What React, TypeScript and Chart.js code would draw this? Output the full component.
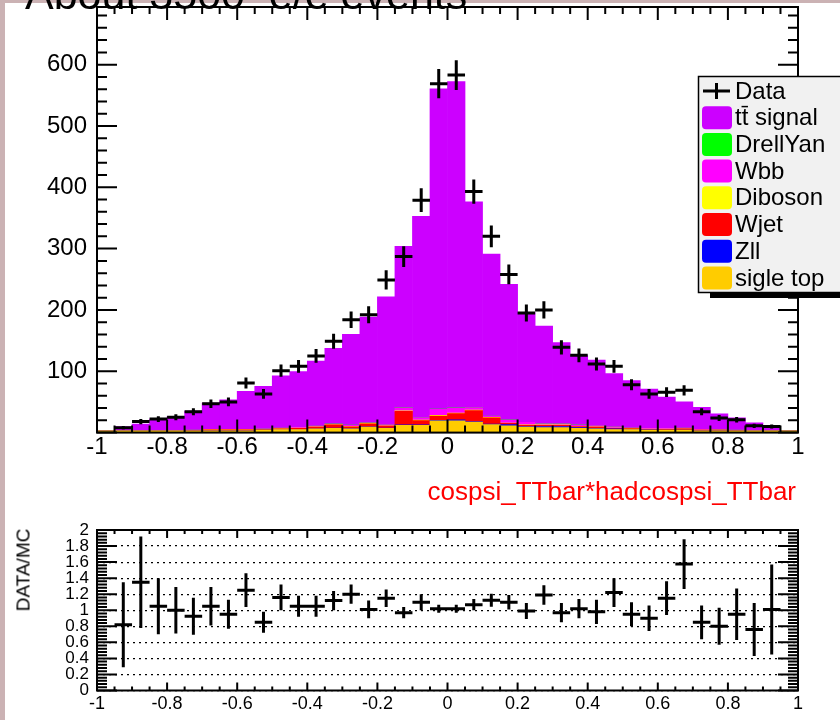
import React, { useEffect, useRef } from 'react';
import { Chart, registerables } from 'chart.js';

Chart.register(...registerables);

// ---------- data ----------
const binCenters = [
  -0.975, -0.925, -0.875, -0.825, -0.775, -0.725, -0.675, -0.625, -0.575, -0.525,
  -0.475, -0.425, -0.375, -0.325, -0.275, -0.225, -0.175, -0.125, -0.075, -0.025,
  0.025, 0.075, 0.125, 0.175, 0.225, 0.275, 0.325, 0.375, 0.425, 0.475,
  0.525, 0.575, 0.625, 0.675, 0.725, 0.775, 0.825, 0.875, 0.925, 0.975,
];
const binHalfWidth = 0.025;

const dataCounts = [
  0, 8, 18, 22, 25, 34, 47, 50, 81, 63,
  101, 108, 125, 149, 184, 192, 249, 287, 379, 569,
  583, 393, 320, 258, 195, 200, 139, 126, 112, 108,
  78, 63, 66, 69, 34, 24, 21, 11, 10, 0,
];

const ttbarSignal = [
  0, 7, 11, 19, 22.5, 31, 43, 48, 62, 69,
  85, 91, 106, 123, 148, 172, 208, 263, 328, 522,
  532, 335, 264, 221, 179, 159, 132, 113, 107, 87,
  77, 64, 51, 43, 36, 26, 20, 12.5, 7, 0,
];
const drellYan = [
  0, 0, 0, 0, 0, 0, 0, 0, 0, 0,
  0, 0, 0, 0.3, 0.3, 0.3, 0.3, 0.4, 0.4, 0.5,
  0.5, 0.4, 0.3, 0.3, 0.3, 0.3, 0.2, 0.2, 0, 0,
  0, 0, 0, 0, 0, 0, 0, 0, 0, 0,
];
const wbb = [
  0, 0, 0, 0, 0.3, 0.5, 0.5, 0.5, 0.5, 1,
  1, 1, 1, 1, 2, 1, 2, 5, 4, 10,
  8, 4, 2, 5, 4, 2, 2, 2, 2, 2,
  1, 1, 1, 1, 1, 0.5, 0.5, 0.5, 0, 0,
];
const diboson = [
  0, 0, 0, 0, 0.2, 0.2, 0.3, 0.3, 0.3, 0.3,
  0.4, 0.4, 0.5, 0.5, 0.5, 0.6, 0.6, 0.8, 0.8, 1,
  1, 0.8, 0.8, 0.6, 0.6, 0.5, 0.5, 0.4, 0.4, 0.3,
  0.3, 0.3, 0.3, 0.2, 0.2, 0.2, 0, 0, 0, 0,
];
const wjet = [
  0, 0, 0, 0, 0, 0.5, 1.5, 1.5, 1.5, 1,
  1, 2, 3, 5, 3, 5, 3, 22, 7, 7,
  10, 18, 10, 2, 2, 2, 2, 2, 2, 1,
  1, 1, 1.5, 2, 1, 1, 0.5, 0, 0, 0,
];
const zll = [
  0, 0, 0, 0, 0, 0, 0, 0, 0, 0,
  0, 0, 0, 0.5, 0.5, 0.5, 0.5, 0.5, 0.5, 1,
  2, 1, 1, 2, 1, 2, 2, 1, 1, 1,
  0.5, 0.5, 0, 0, 0, 0, 0, 0, 0, 0,
];
const sigleTop = [
  3, 3, 3, 3, 3, 3, 3, 3, 3, 4,
  5, 5, 6, 7, 6, 9, 7, 12, 12, 19,
  19, 17, 13, 11, 9, 8, 8, 7, 6, 5,
  5, 4, 4, 4, 3, 3, 3, 3, 3, 3,
];

const ratioCenters = [
  -0.925, -0.875, -0.825, -0.775, -0.725, -0.675, -0.625, -0.575, -0.525,
  -0.475, -0.425, -0.375, -0.325, -0.275, -0.225, -0.175, -0.125, -0.075, -0.025,
  0.025, 0.075, 0.125, 0.175, 0.225, 0.275, 0.325, 0.375, 0.425, 0.475,
  0.525, 0.575, 0.625, 0.675, 0.725, 0.775, 0.825, 0.875, 0.925,
];
const ratioValues = [
  0.82, 1.35, 1.05, 1.0, 0.925, 1.05, 0.95, 1.25, 0.85,
  1.16, 1.05, 1.05, 1.12, 1.2, 1.01, 1.15, 0.97, 1.1, 1.02,
  1.02, 1.07, 1.125, 1.1, 0.99, 1.19, 0.97, 1.02, 0.98, 1.22,
  0.95, 0.9, 1.15, 1.575, 0.85, 0.8, 0.95, 0.76, 1.01,
];
const ratioErrors = [
  0.53, 0.57, 0.35, 0.29, 0.23, 0.24, 0.18, 0.21, 0.13,
  0.16, 0.13, 0.13, 0.12, 0.12, 0.11, 0.11, 0.07, 0.1, 0.05,
  0.05, 0.07, 0.08, 0.09, 0.1, 0.12, 0.12, 0.12, 0.15, 0.18,
  0.15, 0.16, 0.21, 0.31, 0.21, 0.23, 0.32, 0.33, 0.56,
];

const xTickValues = [-1, -0.8, -0.6, -0.4, -0.2, 0, 0.2, 0.4, 0.6, 0.8, 1];
const yTickValues = [100, 200, 300, 400, 500, 600];
const ratioTickValues = [0, 0.2, 0.4, 0.6, 0.8, 1, 1.2, 1.4, 1.6, 1.8, 2];

const legendNames = ['Data', 'tt\u0304 signal', 'DrellYan', 'Wbb', 'Diboson', 'Wjet', 'Zll', 'sigle top'];
const legendColors = ['#000000', '#cc00ff', '#00ff00', '#ff00ff', '#ffff00', '#ff0000', '#0000ff', '#ffcc00'];

const FONT = '"Liberation Sans", Arial, Helvetica, sans-serif';

const fmt = (v: number) => String(Number(Number(v).toFixed(2)));

type TickOpts = {
  xMin: number; xMax: number; xMinor: number; xMajorEvery: number; xMajorLen: number; xMinorLen: number;
  yMin: number; yMax: number; yMinor: number; yMajorEvery: number; yMajorLen: number; yMinorLen: number;
};

function drawFrameAndTicks(ctx: CanvasRenderingContext2D, chart: any, o: TickOpts) {
  const a = chart.chartArea;
  const x = chart.scales.x;
  const y = chart.scales.y;
  ctx.save();
  ctx.strokeStyle = '#000';
  ctx.lineWidth = 2;
  ctx.beginPath();
  const ny = Math.floor((o.yMax - o.yMin) / o.yMinor + 1e-6);
  for (let i = 0; i <= ny; i++) {
    const v = o.yMin + i * o.yMinor;
    const len = i % o.yMajorEvery === 0 ? o.yMajorLen : o.yMinorLen;
    const py = y.getPixelForValue(v);
    ctx.moveTo(a.left, py);
    ctx.lineTo(a.left + len, py);
    ctx.moveTo(a.right, py);
    ctx.lineTo(a.right - len, py);
  }
  const nx = Math.round((o.xMax - o.xMin) / o.xMinor);
  for (let i = 0; i <= nx; i++) {
    const v = o.xMin + i * o.xMinor;
    const len = i % o.xMajorEvery === 0 ? o.xMajorLen : o.xMinorLen;
    const px = x.getPixelForValue(v);
    ctx.moveTo(px, a.top);
    ctx.lineTo(px, a.top + len);
    ctx.moveTo(px, a.bottom);
    ctx.lineTo(px, a.bottom - len);
  }
  ctx.stroke();
  ctx.strokeRect(a.left, a.top, a.right - a.left, a.bottom - a.top);
  ctx.restore();
}

function drawCrosses(ctx: CanvasRenderingContext2D, chart: any, datasetIndex: number, errs: (i: number) => number) {
  const x = chart.scales.x;
  const y = chart.scales.y;
  const meta = chart.getDatasetMeta(datasetIndex);
  const raw = chart.data.datasets[datasetIndex].data as { x: number; y: number }[];
  ctx.save();
  ctx.strokeStyle = '#000';
  ctx.lineWidth = 3;
  ctx.beginPath();
  meta.data.forEach((pt: any, i: number) => {
    const d = raw[i];
    const xl = x.getPixelForValue(d.x - binHalfWidth);
    const xr = x.getPixelForValue(d.x + binHalfWidth);
    const e = errs(i);
    const yt = y.getPixelForValue(d.y + e);
    const yb = y.getPixelForValue(d.y - e);
    ctx.moveTo(xl, pt.y);
    ctx.lineTo(xr, pt.y);
    ctx.moveTo(pt.x, yt);
    ctx.lineTo(pt.x, yb);
  });
  ctx.stroke();
  ctx.restore();
}

function drawLegend(ctx: CanvasRenderingContext2D) {
  const left = 698, top = 76, w = 160, h = 216;
  ctx.save();
  ctx.fillStyle = '#000';
  ctx.fillRect(left + 12, top + h, w, 6);
  ctx.fillStyle = '#f1f1f1';
  ctx.fillRect(left, top, w, h);
  ctx.strokeStyle = '#000';
  ctx.lineWidth = 1.5;
  ctx.strokeRect(left + 0.5, top + 0.5, w, h);
  ctx.font = `24px ${FONT}`;
  ctx.textBaseline = 'middle';
  ctx.textAlign = 'left';
  legendNames.forEach((name, i) => {
    const cy = top + 15 + i * 26.7;
    if (i === 0) {
      ctx.strokeStyle = '#000';
      ctx.lineWidth = 3;
      ctx.beginPath();
      ctx.moveTo(703, cy);
      ctx.lineTo(730, cy);
      ctx.moveTo(716.5, cy - 8);
      ctx.lineTo(716.5, cy + 8);
      ctx.stroke();
    } else {
      ctx.fillStyle = legendColors[i];
      ctx.beginPath();
      (ctx as any).roundRect(702, cy - 11.5, 30, 23, 4);
      ctx.fill();
    }
    ctx.fillStyle = '#000';
    ctx.fillText(name, 735, cy + 1);
  });
  ctx.restore();
}

export default function App() {
  const topRef = useRef<HTMLCanvasElement>(null);
  const botRef = useRef<HTMLCanvasElement>(null);

  useEffect(() => {
    const stackSeries = [
      { label: 'sigle top', data: sigleTop, color: legendColors[7] },
      { label: 'Zll', data: zll, color: legendColors[6] },
      { label: 'Wjet', data: wjet, color: legendColors[5] },
      { label: 'Diboson', data: diboson, color: legendColors[4] },
      { label: 'Wbb', data: wbb, color: legendColors[3] },
      { label: 'DrellYan', data: drellYan, color: legendColors[2] },
      { label: 'tt signal', data: ttbarSignal, color: legendColors[1] },
    ];
    const barSets = stackSeries.map((s) => ({
      type: 'bar' as const,
      label: s.label,
      data: binCenters.map((c, i) => ({ x: c, y: s.data[i] })),
      backgroundColor: s.color,
      borderWidth: 0,
      barPercentage: 1,
      categoryPercentage: 1,
      stack: 'mc',
    }));
    const dataPoints = binCenters
      .map((c, i) => ({ x: c, y: dataCounts[i] }))
      .filter((p) => p.y > 0);

    const topDecor = {
      id: 'topDecor',
      afterDatasetsDraw(chart: any) {
        const ctx = chart.ctx as CanvasRenderingContext2D;
        drawCrosses(ctx, chart, 7, (i) => Math.sqrt(dataPoints[i].y));
        drawFrameAndTicks(ctx, chart, {
          xMin: -1, xMax: 1, xMinor: 0.05, xMajorEvery: 4, xMajorLen: 13, xMinorLen: 7,
          yMin: 0, yMax: 694, yMinor: 20, yMajorEvery: 5, yMajorLen: 20, yMinorLen: 10,
        });
        drawLegend(ctx);
      },
    };

    const fitY = (s: any) => { s.width = 97; s.paddingTop = 0; s.paddingBottom = 0; };

    const topChart = new Chart(topRef.current as HTMLCanvasElement, {
      type: 'bar',
      data: {
        datasets: [
          ...barSets,
          {
            type: 'scatter' as const,
            label: 'Data',
            data: dataPoints,
            pointRadius: 0,
            showLine: false,
            stack: 'data',
          } as any,
        ],
      },
      options: {
        responsive: false,
        animation: false,
        events: [],
        layout: { autoPadding: false, padding: { left: 0, right: 42, top: 7, bottom: 0 } },
        plugins: { legend: { display: false }, tooltip: { enabled: false }, title: { display: false } },
        scales: {
          x: {
            type: 'linear',
            min: -1,
            max: 1,
            offset: false,
            stacked: true,
            grid: { display: false, drawTicks: false },
            border: { display: false },
            afterBuildTicks: (s: any) => { s.ticks = xTickValues.map((v) => ({ value: v })); },
            ticks: {
              autoSkip: false,
              maxRotation: 0,
              padding: 0,
              color: '#000',
              font: { family: FONT, size: 24 },
              callback: (v: any) => fmt(v),
            },
            afterFit: (s: any) => { s.height = 37.4; },
          },
          y: {
            type: 'linear',
            min: 0,
            max: 694,
            stacked: true,
            grid: { display: false, drawTicks: false },
            border: { display: false },
            afterBuildTicks: (s: any) => { s.ticks = yTickValues.map((v) => ({ value: v })); },
            ticks: {
              autoSkip: false,
              padding: 10,
              color: '#000',
              font: { family: FONT, size: 24 },
              callback: (v: any) => fmt(v),
            },
            afterFit: fitY,
          },
        },
      } as any,
      plugins: [topDecor],
    });

    const ratioPoints = ratioCenters.map((c, i) => ({ x: c, y: ratioValues[i] }));
    const botDecor = {
      id: 'botDecor',
      afterDatasetsDraw(chart: any) {
        const ctx = chart.ctx as CanvasRenderingContext2D;
        drawCrosses(ctx, chart, 0, (i) => ratioErrors[i]);
        drawFrameAndTicks(ctx, chart, {
          xMin: -1, xMax: 1, xMinor: 0.05, xMajorEvery: 4, xMajorLen: 8, xMinorLen: 4,
          yMin: 0, yMax: 2, yMinor: 0.04, yMajorEvery: 5, yMajorLen: 20, yMinorLen: 10,
        });
      },
    };

    const botChart = new Chart(botRef.current as HTMLCanvasElement, {
      type: 'scatter',
      data: {
        datasets: [
          { label: 'DATA/MC', data: ratioPoints, pointRadius: 0, showLine: false },
        ],
      },
      options: {
        responsive: false,
        animation: false,
        events: [],
        layout: { autoPadding: false, padding: { left: 0, right: 42, top: 60, bottom: 0 } },
        plugins: { legend: { display: false }, tooltip: { enabled: false } },
        scales: {
          x: {
            type: 'linear',
            min: -1,
            max: 1,
            grid: { display: false, drawTicks: false },
            border: { display: false },
            afterBuildTicks: (s: any) => { s.ticks = xTickValues.map((v) => ({ value: v })); },
            ticks: {
              autoSkip: false,
              maxRotation: 0,
              padding: 3,
              color: '#000',
              font: { family: FONT, size: 18 },
              callback: (v: any) => fmt(v),
            },
            afterFit: (s: any) => { s.height = 29.5; },
          },
          y: {
            type: 'linear',
            min: 0,
            max: 2,
            grid: { display: true, drawTicks: false, color: '#000', lineWidth: 1.2 },
            border: { display: false, dash: [2, 4] },
            afterBuildTicks: (s: any) => { s.ticks = ratioTickValues.map((v) => ({ value: v })); },
            ticks: {
              autoSkip: false,
              padding: 8,
              color: '#000',
              font: { family: FONT, size: 17, lineHeight: 1 },
              callback: (v: any) => fmt(v),
            },
            afterFit: fitY,
          },
        },
      } as any,
      plugins: [botDecor],
    });

    return () => {
      topChart.destroy();
      botChart.destroy();
    };
  }, []);

  return (
    <div style={{ position: 'absolute', left: 0, top: 0, width: 840, height: 720, overflow: 'hidden', background: '#cbb2b4' }}>
      <div style={{ position: 'absolute', left: 5, top: 3, width: 835, height: 717, background: '#ffffff' }} />
      <canvas ref={topRef} width={840} height={470} style={{ position: 'absolute', left: 0, top: 0, width: 840, height: 470 }} />
      <canvas ref={botRef} width={840} height={250} style={{ position: 'absolute', left: 0, top: 470, width: 840, height: 250 }} />
      <div style={{ position: 'absolute', left: 25, top: -27, fontFamily: FONT, fontSize: 43, lineHeight: 1, color: '#000', whiteSpace: 'nowrap' }}>
        About 3500&nbsp;&nbsp;e/e events
      </div>
      <div style={{ position: 'absolute', right: 44, top: 478, fontFamily: FONT, fontSize: 26, lineHeight: 1, color: '#ff0000', whiteSpace: 'nowrap' }}>
        cospsi_TTbar*hadcospsi_TTbar
      </div>
      <div style={{ position: 'absolute', left: 23, top: 570, fontFamily: FONT, fontSize: 19, lineHeight: 1, color: '#000', whiteSpace: 'nowrap', transform: 'translate(-50%, -50%) rotate(-90deg)' }}>
        DATA/MC
      </div>
    </div>
  );
}
